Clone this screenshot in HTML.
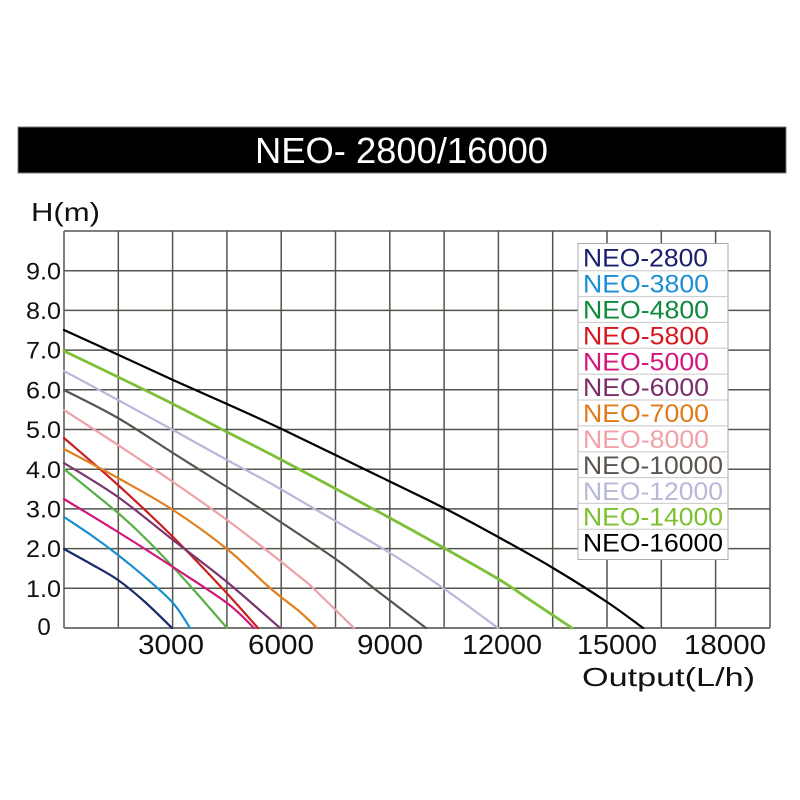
<!DOCTYPE html>
<html><head><meta charset="utf-8"><style>
html,body{margin:0;padding:0;background:#fff;}
svg{display:block;}
text{font-family:"Liberation Sans",Arial,sans-serif;}
</style></head><body>
<svg id="chart" width="800" height="800" viewBox="0 0 800 800" xmlns="http://www.w3.org/2000/svg">
<rect width="800" height="800" fill="#fff"/>
<rect x="18" y="127" width="768" height="46" fill="#000" stroke="#777" stroke-width="1"/>
<text x="401.5" y="163" font-size="36" fill="#fff" text-anchor="middle" textLength="293" lengthAdjust="spacingAndGlyphs">NEO- 2800/16000</text>
<text x="31" y="221" font-size="26" fill="#111" textLength="69" lengthAdjust="spacingAndGlyphs">H(m)</text>
<g stroke="#55554d" stroke-width="1.5" fill="none">
<line x1="64" y1="231" x2="64" y2="628"/>
<line x1="118.3" y1="231" x2="118.3" y2="628"/>
<line x1="172.6" y1="231" x2="172.6" y2="628"/>
<line x1="226.9" y1="231" x2="226.9" y2="628"/>
<line x1="281.2" y1="231" x2="281.2" y2="628"/>
<line x1="335.5" y1="231" x2="335.5" y2="628"/>
<line x1="389.8" y1="231" x2="389.8" y2="628"/>
<line x1="444.1" y1="231" x2="444.1" y2="628"/>
<line x1="498.4" y1="231" x2="498.4" y2="628"/>
<line x1="552.7" y1="231" x2="552.7" y2="628"/>
<line x1="607" y1="231" x2="607" y2="628"/>
<line x1="661.3" y1="231" x2="661.3" y2="628"/>
<line x1="715.6" y1="231" x2="715.6" y2="628"/>
<line x1="770" y1="231" x2="770" y2="628"/>
<line x1="64" y1="231" x2="770" y2="231"/>
<line x1="64" y1="270.7" x2="770" y2="270.7"/>
<line x1="64" y1="310.4" x2="770" y2="310.4"/>
<line x1="64" y1="350.1" x2="770" y2="350.1"/>
<line x1="64" y1="389.8" x2="770" y2="389.8"/>
<line x1="64" y1="429.5" x2="770" y2="429.5"/>
<line x1="64" y1="469.2" x2="770" y2="469.2"/>
<line x1="64" y1="508.9" x2="770" y2="508.9"/>
<line x1="64" y1="548.6" x2="770" y2="548.6"/>
<line x1="64" y1="588.3" x2="770" y2="588.3"/>
<line x1="64" y1="628" x2="770" y2="628" stroke="#777" stroke-width="2"/>
</g>
<g font-size="24" fill="#111" text-anchor="end">
<text x="61" y="279.5" textLength="35" lengthAdjust="spacingAndGlyphs">9.0</text>
<text x="61" y="319" textLength="35" lengthAdjust="spacingAndGlyphs">8.0</text>
<text x="61" y="358.7" textLength="35" lengthAdjust="spacingAndGlyphs">7.0</text>
<text x="61" y="398.4" textLength="35" lengthAdjust="spacingAndGlyphs">6.0</text>
<text x="61" y="438.1" textLength="35" lengthAdjust="spacingAndGlyphs">5.0</text>
<text x="61" y="477.8" textLength="35" lengthAdjust="spacingAndGlyphs">4.0</text>
<text x="61" y="517.5" textLength="35" lengthAdjust="spacingAndGlyphs">3.0</text>
<text x="61" y="557.2" textLength="35" lengthAdjust="spacingAndGlyphs">2.0</text>
<text x="61" y="596.9" textLength="35" lengthAdjust="spacingAndGlyphs">1.0</text>
</g>
<text x="44" y="635" font-size="24" fill="#111" text-anchor="middle">0</text>
<g font-size="28" fill="#111" text-anchor="middle">
<text x="171" y="654" textLength="66" lengthAdjust="spacingAndGlyphs">3000</text>
<text x="281" y="654" textLength="66" lengthAdjust="spacingAndGlyphs">6000</text>
<text x="390" y="654" textLength="66" lengthAdjust="spacingAndGlyphs">9000</text>
<text x="502" y="654" textLength="80" lengthAdjust="spacingAndGlyphs">12000</text>
<text x="617" y="654" textLength="80" lengthAdjust="spacingAndGlyphs">15000</text>
<text x="725" y="654" textLength="82" lengthAdjust="spacingAndGlyphs">18000</text>
</g>
<text x="582" y="686" font-size="26" fill="#111" textLength="173" lengthAdjust="spacingAndGlyphs">Output(L/h)</text>
<g id="curves" fill="none" stroke-width="2.2" stroke-linejoin="round" stroke-linecap="round">
<polyline stroke="#1b2a6b" points="64,549 91,564 118,580 145,602 172,628"/>
<polyline stroke="#1a8fd0" points="64,517 91,535 118,555 146,578 173,603 190,628"/>
<polyline stroke="#56b046" points="64,469 118,513 146,539 173,567 200,597 227,628"/>
<polyline stroke="#d4157a" points="64,499 118,532 173,567 227,603 254,628"/>
<polyline stroke="#c8201e" points="64,438 118,485 173,537 222,588 258,628"/>
<polyline stroke="#7a3570" points="64,463 118,497 173,540 227,582 280,628"/>
<polyline stroke="#e0801e" points="64,449 118,478 173,510 227,549 270,588 300,612 317,628"/>
<polyline stroke="#eea0a6" points="64,410 118,445 173,482 227,520 270,553 300,577 313,588 354,628"/>
<polyline stroke="#58534f" points="64,390 118,418 173,453 227,487 270,515 337,560 380,593 426,628"/>
<polyline stroke="#b9b8d8" points="64,371 118,400 173,430 227,460 270,483 313,508 390,553 443,588 498,628"/>
<polyline stroke="#7cc037" stroke-width="2.8" points="64,351 118,377 173,404 227,432 281.7,460 390,518 444,548 500,580 530,600 572,628"/>
<polyline stroke="#000" points="64,330 118.7,355 173,380 227,404 281.7,429 362,468 444,508 500,538 553,568 607,602 643,628"/>
</g>
<rect x="578" y="243.5" width="150" height="316" fill="#fff" stroke="#aaa" stroke-width="1"/>
<g stroke="#c8c8c8" stroke-width="1">
<line x1="578" y1="270.7" x2="728" y2="270.7"/>
<line x1="578" y1="296.6" x2="728" y2="296.6"/>
<line x1="578" y1="322.4" x2="728" y2="322.4"/>
<line x1="578" y1="348.3" x2="728" y2="348.3"/>
<line x1="578" y1="374.1" x2="728" y2="374.1"/>
<line x1="578" y1="400" x2="728" y2="400"/>
<line x1="578" y1="425.9" x2="728" y2="425.9"/>
<line x1="578" y1="451.7" x2="728" y2="451.7"/>
<line x1="578" y1="477.6" x2="728" y2="477.6"/>
<line x1="578" y1="503.4" x2="728" y2="503.4"/>
<line x1="578" y1="529.3" x2="728" y2="529.3"/>
</g>
<g font-size="25">
<text x="583" y="266.7" fill="#1b1f6b" textLength="125" lengthAdjust="spacingAndGlyphs">NEO-2800</text>
<text x="583" y="292.6" fill="#1a8fd6" textLength="126" lengthAdjust="spacingAndGlyphs">NEO-3800</text>
<text x="583" y="318.5" fill="#0e8a3c" textLength="126" lengthAdjust="spacingAndGlyphs">NEO-4800</text>
<text x="583" y="344.4" fill="#d7161e" textLength="126" lengthAdjust="spacingAndGlyphs">NEO-5800</text>
<text x="583" y="370.3" fill="#d4157e" textLength="126" lengthAdjust="spacingAndGlyphs">NEO-5000</text>
<text x="583" y="396.2" fill="#7b2d6b" textLength="126" lengthAdjust="spacingAndGlyphs">NEO-6000</text>
<text x="583" y="422.1" fill="#e07b1a" textLength="126" lengthAdjust="spacingAndGlyphs">NEO-7000</text>
<text x="583" y="448" fill="#f2a0a8" textLength="126" lengthAdjust="spacingAndGlyphs">NEO-8000</text>
<text x="583" y="473.9" fill="#5b5550" textLength="140" lengthAdjust="spacingAndGlyphs">NEO-10000</text>
<text x="583" y="499.8" fill="#b8b8d8" textLength="140" lengthAdjust="spacingAndGlyphs">NEO-12000</text>
<text x="583" y="525.7" fill="#7cc030" textLength="140" lengthAdjust="spacingAndGlyphs">NEO-14000</text>
<text x="583" y="551.6" fill="#000" textLength="140" lengthAdjust="spacingAndGlyphs">NEO-16000</text>
</g>
</svg>
<script>
(function(){
  try{
    var NS="http://www.w3.org/2000/svg";
    var g=document.getElementById("curves");
    var pls=g.querySelectorAll("polyline");
    for(var i=0;i<pls.length;i++){
      var pl=pls[i];
      var raw=pl.getAttribute("points").trim().split(/\s+/);
      var P=raw.map(function(s){var a=s.split(",");return [parseFloat(a[0]),parseFloat(a[1])];});
      var d="M"+P[0][0]+","+P[0][1];
      for(var k=0;k<P.length-1;k++){
        var p0=P[k>0?k-1:k],p1=P[k],p2=P[k+1],p3=P[k+2<P.length?k+2:k+1];
        var c1x=p1[0]+(p2[0]-p0[0])/6,c1y=p1[1]+(p2[1]-p0[1])/6;
        var c2x=p2[0]-(p3[0]-p1[0])/6,c2y=p2[1]-(p3[1]-p1[1])/6;
        d+=" C"+c1x.toFixed(2)+","+c1y.toFixed(2)+" "+c2x.toFixed(2)+","+c2y.toFixed(2)+" "+p2[0]+","+p2[1];
      }
      var path=document.createElementNS(NS,"path");
      path.setAttribute("d",d);
      path.setAttribute("stroke",pl.getAttribute("stroke"));
      if(pl.getAttribute("stroke-width"))path.setAttribute("stroke-width",pl.getAttribute("stroke-width"));
      g.replaceChild(path,pl);
    }
  }catch(e){}
})();
</script>
</body></html>
